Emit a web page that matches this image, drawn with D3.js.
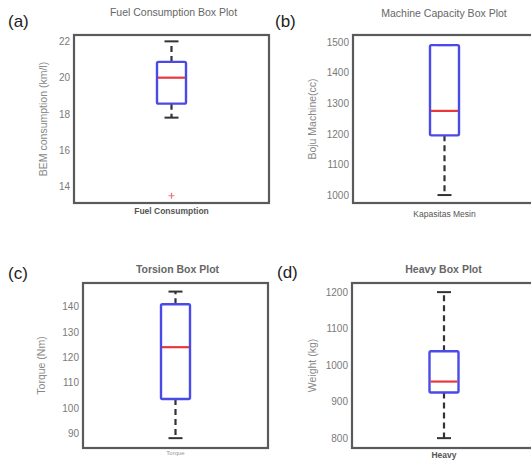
<!DOCTYPE html>
<html><head><meta charset="utf-8">
<script src="https://cdn.jsdelivr.net/npm/d3@7"></script>
<style>body{margin:0;background:#fff}svg{display:block}text{font-family:"Liberation Sans",Arial,sans-serif}</style>
</head><body>
<script>
const panelTags = ["(a)", "(b)", "(c)", "(d)"];
const titles = ["Fuel Consumption Box Plot", "Machine Capacity Box Plot", "Torsion Box Plot", "Heavy Box Plot"];
const yLabels = ["BEM consumption (km/l)", "Boju Machine(cc)", "Torque (Nm)", "Weight (kg)"];
const xLabels = ["Fuel Consumption", "Kapasitas Mesin", "Torque", "Heavy"];
const yDomains = [[13.1, 22.35], [974, 1523], [84.1, 149.4], [773, 1225]];
const yTicks = [[14, 16, 18, 20, 22], [1000, 1100, 1200, 1300, 1400, 1500], [90, 100, 110, 120, 130, 140], [800, 900, 1000, 1100, 1200]];
const whiskerLow = [17.8, 1000, 88, 800];
const q1 = [18.57, 1195, 103.5, 925];
const median = [20.0, 1275, 124, 955];
const q3 = [20.87, 1490, 141, 1038];
const whiskerHigh = [22, 1490, 146, 1200];
const outliers = [[13.5], [], [], []];

const W = 531, H = 461;
const svg = d3.select("body").append("svg").attr("width", W).attr("height", H);

const frames = [
  {x0: 74, x1: 269, y0: 35, y1: 203, tagX: 8, tagY: 27, titleY: 16, xlabY: 214, ylabX: 47},
  {x0: 353, x1: 536, y0: 35, y1: 203, tagX: 275, tagY: 27, titleY: 17, xlabY: 217, ylabX: 316},
  {x0: 83, x1: 268, y0: 283, y1: 448, tagX: 8, tagY: 279, titleY: 273, xlabY: 455, ylabX: 45},
  {x0: 352, x1: 536, y0: 283, y1: 448, tagX: 277, tagY: 278, titleY: 273, xlabY: 458, ylabX: 316}
];

panelTags.forEach((tag, i) => {
  const f = frames[i];
  const g = svg.append("g");
  const y = d3.scaleLinear().domain(yDomains[i]).range([f.y1, f.y0]);
  const x = d3.scaleBand().domain([xLabels[i]]).range([f.x0, f.x1]).padding(0.42);
  const cx = x(xLabels[i]) + x.bandwidth() / 2;
  const bw = 29;

  g.append("rect").attr("x", f.x0).attr("y", f.y0).attr("width", f.x1 - f.x0).attr("height", f.y1 - f.y0)
    .attr("fill", "#fff").attr("stroke", "#5a5a5a").attr("stroke-width", 2.2);

  const ax = g.append("g").attr("transform", `translate(${f.x0 - 2},0)`)
    .call(d3.axisLeft(y).tickValues(yTicks[i]).tickSize(0).tickPadding(2).tickFormat(d3.format("d")));
  ax.select(".domain").remove();
  ax.selectAll("text").attr("fill", "#7a7a7a").style("font-size", "10px").style("font-family", "'Liberation Sans Narrow','Liberation Sans',Arial,sans-serif");

  g.append("line").attr("x1", cx).attr("x2", cx).attr("y1", y(q3[i])).attr("y2", y(whiskerHigh[i]))
    .attr("stroke", "#333").attr("stroke-width", 2.2).attr("stroke-dasharray", "6,4");
  g.append("line").attr("x1", cx).attr("x2", cx).attr("y1", y(q1[i])).attr("y2", y(whiskerLow[i]))
    .attr("stroke", "#333").attr("stroke-width", 2.2).attr("stroke-dasharray", "6,4");
  [whiskerLow[i], whiskerHigh[i]].forEach(v => {
    g.append("line").attr("x1", cx - 7).attr("x2", cx + 7).attr("y1", y(v)).attr("y2", y(v))
      .attr("stroke", "#333").attr("stroke-width", 2);
  });

  g.append("rect").attr("x", cx - bw / 2).attr("y", y(q3[i])).attr("width", bw).attr("height", y(q1[i]) - y(q3[i]))
    .attr("fill", "none").attr("stroke", "#4a4ae8").attr("stroke-width", 2.4).attr("rx", 1.5);
  g.append("line").attr("x1", cx - bw / 2 + 1).attr("x2", cx + bw / 2 - 1).attr("y1", y(median[i])).attr("y2", y(median[i]))
    .attr("stroke", "#e8383c").attr("stroke-width", 2.2);

  outliers[i].forEach(v => {
    g.append("path").attr("d", `M${cx - 3},${y(v)}H${cx + 3}M${cx},${y(v) - 3}V${y(v) + 3}`)
      .attr("stroke", "#f07080").attr("stroke-width", 1.2);
  });

  g.append("text").attr("x", f.tagX).attr("y", f.tagY).text(tag).attr("fill", "#222").style("font-size", "17px");
  g.append("text").attr("x", (f.x0 + Math.min(f.x1, W)) / 2 + 2).attr("y", f.titleY).attr("text-anchor", "middle")
    .text(titles[i]).attr("fill", "#666").style("font-size", "10.5px")
    .style("font-weight", i >= 2 ? "bold" : "normal");
  g.append("text").attr("transform", `translate(${f.ylabX},${(f.y0 + f.y1) / 2}) rotate(-90)`).attr("text-anchor", "middle")
    .text(yLabels[i]).attr("fill", "#888").style("font-size", "10.5px");
  g.append("text").attr("x", cx).attr("y", f.xlabY).attr("text-anchor", "middle").text(xLabels[i])
    .attr("fill", i === 2 ? "#999" : "#555").style("font-size", i === 2 ? "6px" : "8.5px")
    .style("font-weight", (i === 0 || i === 3) ? "bold" : "normal");
});
</script>
</body></html>
